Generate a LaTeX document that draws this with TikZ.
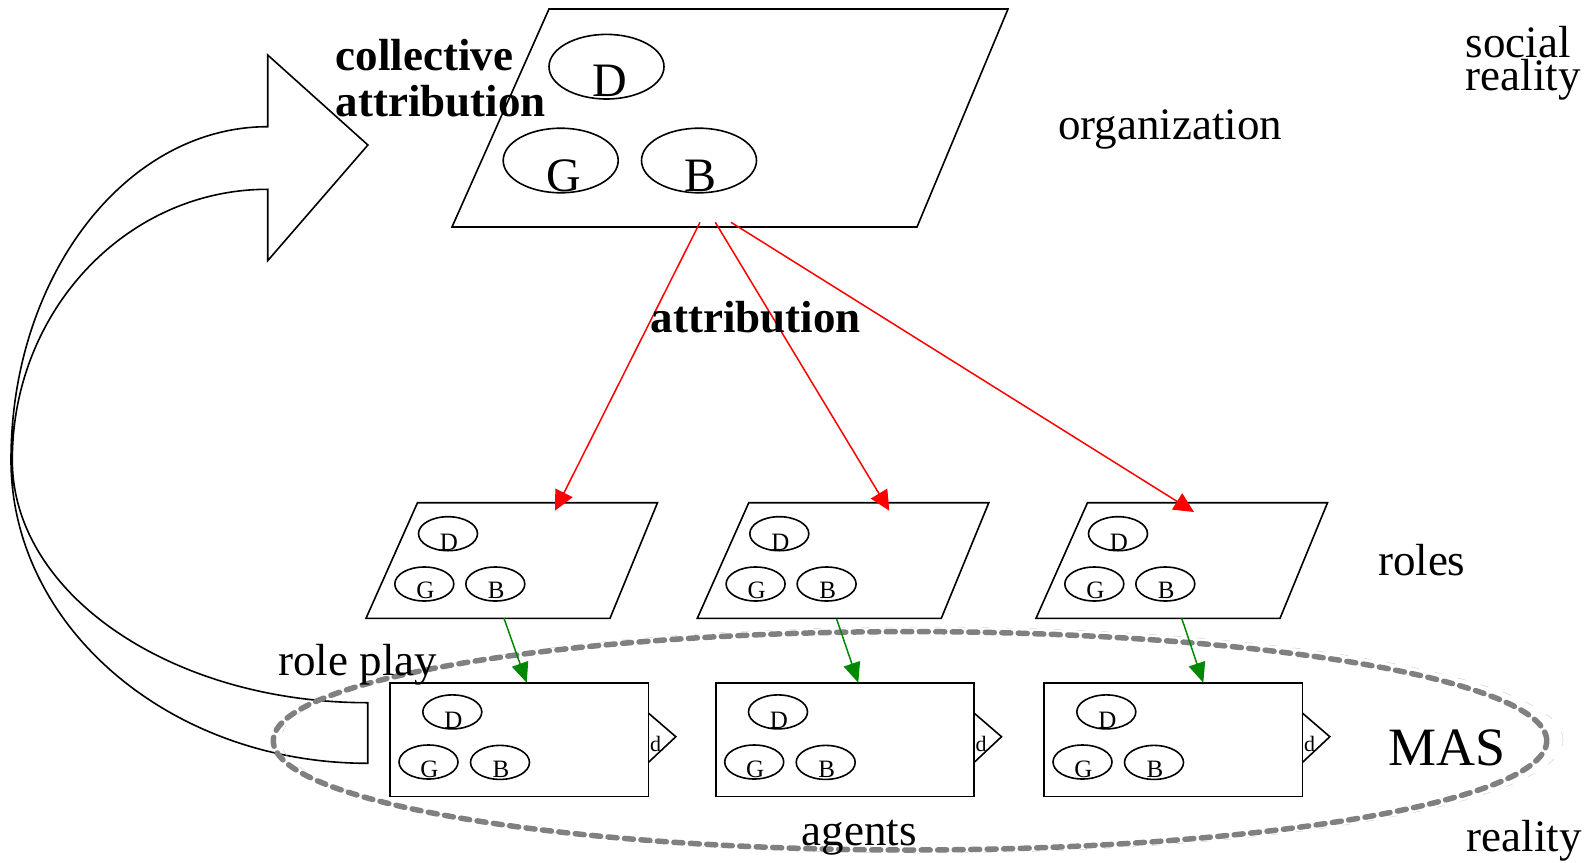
\documentclass[tikz,border=0pt]{standalone}
\usepackage{fontspec}
\setmainfont{Liberation Serif}
\usetikzlibrary{arrows.meta,shapes.geometric}
\definecolor{masgray}{RGB}{128,128,128}
\definecolor{attred}{RGB}{255,0,0}
\definecolor{playgreen}{RGB}{0,136,0}
\newcommand\setfs[1]{\fontsize{#1}{#1}\selectfont}
\begin{document}
\begin{tikzpicture}[x=1pt,y=-1pt,line width=1.6pt,
  lbl/.style={inner sep=0,outer sep=0,anchor=base west,font=\setfs{45}},
  blbl/.style={inner sep=0,outer sep=0,anchor=base west,font=\bfseries\setfs{45}},
  ell/.style={draw,ellipse,inner sep=0,outer sep=0},
  bigell/.style={ell,minimum width=115pt,minimum height=64.6pt},
  smell/.style={ell,minimum width=59pt,minimum height=34pt},
  bigletter/.style={inner sep=0,outer sep=0,anchor=base,font=\setfs{48}},
  smletter/.style={inner sep=0,outer sep=0,anchor=base,font=\setfs{25}},
  agentbox/.style={draw,anchor=north west,minimum width=258.3pt,minimum height=113.7pt,inner sep=0,outer sep=0},
  redarr/.style={draw=attred,line width=1.5pt,-{Triangle[length=20pt,width=19pt]},fill=attred},
  greenarr/.style={draw=playgreen,line width=1.5pt,-{Triangle[length=20pt,width=17pt]},fill=playgreen}]
\useasboundingbox (0,0) rectangle (1592,862);

% big curved arrow (collective attribution)
\draw (367.7,702.7) -- (367.7,763.3)
  .. controls (170.7,763.3) and (11,627.5) .. (11,460)
  .. controls (11,275.9) and (125.9,126.7) .. (267.7,126.7)
  -- (267.7,55) -- (367.9,145) -- (267.7,260.7) -- (267.7,189.3)
  .. controls (126.6,189.3) and (12.3,310.5) .. (12.3,460)
  .. controls (12.3,594) and (171.4,702.7) .. (367.7,702.7) -- cycle;

% organization
\draw (452,227) -- (549,9) -- (1008,9) -- (917,227) -- cycle;
\node[bigell] (od) at (606.5,66.7) {};
\node[bigell] (og) at (560.7,160.5) {};
\node[bigell] (ob) at (699,160.5) {};
\node[bigletter] (odl) at (610,96.7) {D};
\node[bigletter] (ogl) at (564,191.7) {G};
\node[bigletter] (obl) at (700,191.7) {B};

% roles
\foreach \i/\bx in {1/366,2/697.3,3/1036}{
  \draw (\bx,618.3) -- ++(51.5,-115.6) -- ++(240,0) -- ++(-47.5,115.6) -- cycle;
  \node[smell] (r\i d) at (\bx+82,533.7) {};
  \node[smell] (r\i g) at (\bx+58.3,584) {};
  \node[smell] (r\i b) at (\bx+129.3,584) {};
  \node[smletter] (r\i dl) at (\bx+83,550) {D};
  \node[smletter] (r\i gl) at (\bx+59.3,598.3) {G};
  \node[smletter] (r\i bl) at (\bx+130.3,598.3) {B};
}

% faint MAS ellipse
\node[draw=masgray!35,line width=0.5pt,dash pattern=on 8pt off 16pt,ellipse,inner sep=0,
  minimum width=1282pt,minimum height=226pt] (mas2) at (922,740) {};

% agents
\foreach \i/\ax in {1/390,2/715.7,3/1044}{
  \node[agentbox] (a\i) at (\ax,682.7) {};
  \draw (\ax+258.3,713) -- (\ax+285.8,736.7) -- (\ax+258.3,762.5);
  \node[inner sep=0,outer sep=0,anchor=base west,font=\setfs{22}] (a\i dd) at (\ax+260,751.7) {d};
  \node[smell] (a\i d) at (\ax+62.3,711.9) {};
  \node[smell] (a\i g) at (\ax+38.5,762) {};
  \node[smell] (a\i b) at (\ax+110,762.4) {};
  \node[smletter] (a\i dl) at (\ax+63.3,728.3) {D};
  \node[smletter] (a\i gl) at (\ax+39.5,777.7) {G};
  \node[smletter] (a\i bl) at (\ax+111,777.7) {B};
}

\node[draw=masgray,line width=5.5pt,dash pattern=on 9pt off 7.5pt,line cap=round,ellipse,inner sep=0,
  minimum width=1273.4pt,minimum height=218.4pt] (mas) at (910,740.8) {};

% attribution arrows
\coordinate (o1) at (700,222.3);
\coordinate (o2) at (715.3,222.3);
\coordinate (o3) at (731,222.3);
\coordinate (t1) at (555,510.7);
\coordinate (t2) at (889.3,510.7);
\coordinate (t3) at (1194,512);
\draw[redarr] (o1) -- (t1);
\draw[redarr] (o2) -- (t2);
\draw[redarr] (o3) -- (t3);

% role play arrows
\coordinate (s1) at (504,618.3);
\coordinate (s2) at (836.7,619.3);
\coordinate (s3) at (1181.7,618.3);
\coordinate (e1) at (526.7,682.7);
\coordinate (e2) at (858.3,682.7);
\coordinate (e3) at (1203.3,682.7);
\draw[greenarr] (s1) -- (e1);
\draw[greenarr] (s2) -- (e2);
\draw[greenarr] (s3) -- (e3);

% labels
\node[blbl] (colla) at (335.7,70) {collective};
\node[blbl] (collb) at (335.7,116.7) {attribution};
\node[blbl] (attr) at (650.7,332.3) {attribution};
\node[lbl] (org) at (1058.3,139.3) {organization};
\node[lbl] (soc1) at (1465.8,57.3) {social};
\node[lbl] (soc2) at (1465.8,90) {reality};
\node[lbl] (roles) at (1378,575.6) {roles};
\node[lbl] (rplay) at (278.3,675) {role play};
\node[lbl] (agents) at (801.7,845) {agents};
\node[inner sep=0,outer sep=0,anchor=base west,font=\setfs{54}] (maslbl) at (1388.3,765.7) {MAS};
\node[lbl] (real) at (1466.7,851.7) {reality};
\end{tikzpicture}
\end{document}
